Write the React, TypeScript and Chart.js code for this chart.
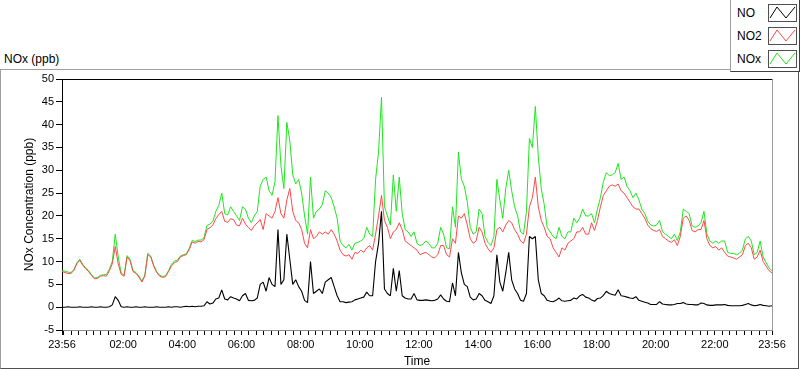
import React, { useEffect, useRef } from 'react';
import { Chart, registerables } from 'chart.js';

Chart.register(...registerables);

const FONT = "'Liberation Sans', Arial, sans-serif";

// time axis: minutes since start (23:56), one sample every 6 minutes
const START_CLOCK = '23:56';
const STEP_MIN = 6;
const SPAN_MIN = 1440;

const X_TICK_LABELS = ['23:56', '02:00', '04:00', '06:00', '08:00', '10:00', '12:00', '14:00', '16:00', '18:00', '20:00', '22:00', '23:56'];
const Y_TICKS = [-5, 0, 5, 10, 15, 20, 25, 30, 35, 40, 45, 50];

const NO = [
  0.0, 0.0, 0.1, 0.0, 0.0, 0.0, 0.1, 0.0, 0.0, 0.0, 0.1, 0.0, 0.0, 0.1, 0.0, 0.0, 0.1, 0.5, 2.3, 1.5,
  0.1, 0.0, 0.1, 0.0, 0.0, 0.1, 0.0, 0.0, 0.1, 0.0, 0.0, 0.0, 0.1, 0.0, 0.0, 0.0, 0.1, 0.0, 0.1, 0.1,
  0.0, 0.1, 0.2, 0.1, 0.2, 0.1, 0.2, 0.2, 0.3, 1.2, 0.7, 0.9, 1.8, 2.0, 3.8, 1.8, 1.6, 2.3, 2.0, 1.8,
  1.4, 2.5, 3.0, 1.5, 1.4, 1.5, 2.0, 5.0, 5.5, 3.5, 6.5, 5.0, 4.5, 17.0, 5.0, 6.0, 16.0, 10.5, 5.0, 6.0,
  4.5, 3.5, 1.5, 1.0, 10.0, 3.0, 3.5, 4.0, 3.0, 5.5, 6.0, 6.5, 4.5, 2.5, 1.2, 1.2, 1.0, 1.1, 1.2, 1.6,
  1.8, 2.0, 2.2, 3.3, 2.5, 2.5, 10.0, 14.0, 21.0, 4.0, 3.0, 2.5, 8.5, 3.5, 8.0, 2.5, 2.0, 1.8, 1.8, 3.0,
  1.6, 1.5, 1.5, 1.6, 1.5, 1.4, 1.5, 1.8, 2.7, 1.8, 1.3, 1.2, 5.3, 2.5, 12.0, 7.5, 5.0, 4.5, 2.2, 1.6,
  1.8, 3.0, 2.5, 1.5, 1.2, 0.8, 2.5, 11.5, 5.5, 3.5, 7.5, 12.0, 6.0, 4.0, 3.0, 1.5, 1.3, 3.0, 15.5, 15.0,
  15.5, 6.0, 3.0, 2.5, 1.5, 1.3, 1.2, 1.5, 2.0, 1.4, 1.3, 1.4, 1.5, 2.0, 1.8, 2.5, 2.8, 2.2, 2.0, 1.6,
  1.3, 1.9, 2.0, 2.6, 3.5, 3.0, 2.8, 2.6, 3.8, 2.5, 2.4, 2.2, 2.0, 1.9, 2.3, 1.5, 1.3, 1.1, 0.9, 0.6,
  0.6, 0.6, 1.2, 0.7, 0.6, 0.5, 0.5, 0.6, 0.8, 0.8, 1.0, 0.7, 0.6, 0.6, 0.5, 0.5, 0.9, 0.8, 0.5, 0.4,
  0.4, 0.5, 0.5, 0.5, 0.6, 0.4, 0.3, 0.3, 0.3, 0.3, 0.4, 0.6, 0.8, 0.5, 0.3, 0.4, 0.6, 0.4, 0.3, 0.2,
  0.3,
];

const NO2 = [
  7.8, 7.6, 7.4, 7.4, 8.0, 9.5, 10.3, 9.2, 8.4, 7.8, 6.9, 6.2, 6.3, 6.8, 6.9, 6.8, 8.0, 9.5, 13.3, 9.5,
  7.2, 6.8, 11.0, 10.2, 7.8, 7.4, 6.6, 5.5, 6.8, 11.5, 11.0, 9.0, 7.6, 6.8, 6.5, 6.7, 7.8, 9.0, 9.8, 10.0,
  11.0, 11.3, 11.5, 12.6, 14.3, 14.0, 14.4, 14.3, 14.8, 17.0, 17.4, 18.0, 19.4, 20.3, 21.0, 18.8, 18.6, 19.4, 19.2, 18.0,
  17.8, 19.5, 18.2, 17.5, 16.8, 17.8, 18.5, 19.2, 17.0, 20.5, 20.0, 19.5, 21.0, 24.0, 20.5, 19.5, 23.5, 26.0, 21.0, 19.0,
  18.5, 17.0, 14.0, 13.0, 17.0, 15.0, 15.5, 16.5, 16.0, 16.5, 16.0, 17.0, 16.0, 14.5, 12.5, 11.5, 11.2, 11.5, 10.5, 12.0,
  11.8, 12.5, 12.0, 13.0, 13.5, 12.5, 16.0, 20.0, 24.5, 19.0, 17.5, 15.0, 16.5, 17.0, 18.5, 17.0, 14.5, 14.0, 13.5, 13.0,
  12.5, 11.5, 11.8, 12.0, 11.5, 11.0, 10.8, 11.5, 13.5, 13.5, 11.5, 11.0, 15.0, 14.0, 20.0, 19.5, 20.5, 18.0, 15.0, 14.0,
  14.5, 17.5, 16.5, 14.0, 12.8, 12.0, 13.0, 17.0, 17.5, 16.5, 18.0, 19.0, 18.5, 17.0, 16.0, 14.5, 14.0, 16.0, 22.0, 24.0,
  28.5, 22.0, 19.0, 17.5, 15.5, 15.0, 13.0, 12.0, 11.0, 13.0, 12.5, 14.0, 14.5, 15.0, 16.5, 16.5, 17.5, 16.0, 16.0, 18.5,
  16.8, 19.0, 22.0, 24.5, 25.5, 26.5, 26.8, 26.5, 27.0, 25.5, 25.0, 24.0, 23.0, 22.0, 21.5, 21.5, 20.5, 19.5, 18.0, 17.2,
  16.8, 16.6, 17.0, 15.5, 15.0, 14.5, 14.2, 14.8, 13.5, 15.5, 19.5, 20.0, 19.0, 16.8, 16.5, 17.0, 17.0, 19.0, 15.0, 13.5,
  13.0, 13.3, 12.5, 13.0, 12.0, 11.2, 11.0, 10.8, 10.5, 11.0, 11.5, 13.5, 14.0, 13.0, 10.5, 11.0, 12.5, 10.0, 9.0, 8.0,
  7.5,
];

const NOX = [
  8.0, 7.9, 7.7, 7.6, 8.2, 9.7, 10.5, 9.4, 8.6, 8.0, 7.1, 6.4, 6.5, 7.0, 7.1, 7.2, 8.3, 10.0, 16.0, 11.0,
  7.5, 7.0, 11.3, 10.5, 8.0, 7.6, 6.8, 5.7, 7.0, 11.8, 11.2, 9.2, 7.8, 7.0, 6.7, 6.9, 8.0, 9.4, 10.1, 10.3,
  11.2, 11.5, 11.7, 12.9, 14.6, 14.4, 14.7, 14.7, 15.2, 17.9, 18.2, 18.8, 21.0, 22.3, 25.0, 20.5, 20.2, 22.0, 21.0, 20.0,
  19.0, 22.0, 21.5, 19.5, 18.5, 20.0, 21.0, 26.5, 28.0, 28.5, 25.5, 24.5, 27.5, 42.0, 31.0, 26.0, 40.5, 36.5, 29.0, 27.0,
  28.0, 25.0, 20.0, 16.0, 28.5, 19.5, 21.0, 21.5, 22.5, 25.5, 25.0, 24.0, 22.0, 19.5, 14.5, 13.5, 13.0, 13.8, 12.5, 14.0,
  14.2, 14.5, 15.0, 17.5, 16.0, 15.5, 28.0, 34.0, 46.0, 22.0, 20.0, 18.0, 29.0, 21.0, 28.5, 20.5, 17.0, 16.5, 15.5, 16.5,
  14.0, 13.5, 13.8, 14.5, 14.0, 13.0, 13.0, 14.0, 17.5, 16.0, 13.0, 12.8, 22.0, 17.5, 34.0, 28.0, 26.5, 23.0, 17.5, 16.0,
  16.5, 21.5, 20.5, 15.5, 14.2, 13.5, 15.5, 28.0, 23.5, 19.5, 26.0, 30.0, 25.5, 22.0, 20.0, 16.5, 16.0, 21.0, 37.0, 35.0,
  44.0, 33.0, 26.0, 22.5, 17.5, 16.5, 15.5, 15.0, 17.5, 15.5, 15.0, 16.5, 16.5, 19.5, 18.5, 19.5, 21.5, 20.0, 20.0, 20.5,
  18.5, 21.5, 24.0, 27.5, 29.5, 28.8, 29.0, 29.5, 31.5, 28.0, 28.5, 26.5, 25.5, 24.0, 25.0, 23.5, 21.5, 20.5, 18.8, 18.0,
  17.8, 18.0, 19.0, 16.5, 16.0, 15.5, 15.0, 16.0, 14.6, 16.5, 21.5, 21.0, 20.5, 17.8, 17.5, 17.8, 18.5, 21.0, 16.0, 14.5,
  14.0, 14.5, 14.0, 14.5, 14.5, 12.0, 11.8, 11.8, 11.5, 11.8, 12.5, 15.0, 15.5, 14.5, 11.5, 12.0, 14.5, 11.0, 9.8, 8.6,
  8.0,
];

function clockToMin(s: string): number {
  const [h, m] = s.split(':').map(Number);
  return h * 60 + m;
}

const START = clockToMin(START_CLOCK);

// offsets (minutes from start) of the labelled ticks
function labelOffset(label: string, idx: number): number {
  if (idx === 0) return 0;
  if (idx === X_TICK_LABELS.length - 1) return SPAN_MIN;
  return (clockToMin(label) - START + 1440) % 1440;
}
const LABEL_MAP = new Map<number, string>();
X_TICK_LABELS.forEach((l, i) => LABEL_MAP.set(labelOffset(l, i), l));

// minor ticks every 15 clock-minutes
const TICK_VALUES: number[] = [0];
for (let t = 1; t < SPAN_MIN; t++) if ((START + t) % 15 === 0) TICK_VALUES.push(t);
TICK_VALUES.push(SPAN_MIN);

function series(vals: number[]) {
  return vals.map((v, i) => ({ x: i * STEP_MIN, y: v }));
}

const framePlugin = {
  id: 'plotFrame',
  afterDraw(chart: any) {
    const { ctx, chartArea: a } = chart;
    ctx.save();
    ctx.lineWidth = 1;
    ctx.strokeStyle = '#000';
    ctx.beginPath();
    ctx.moveTo(a.left, a.top + 0.5);
    ctx.lineTo(a.right, a.top + 0.5);
    ctx.stroke();
    ctx.strokeStyle = '#9a9a9a';
    ctx.beginPath();
    ctx.moveTo(a.right + 0.5, a.top);
    ctx.lineTo(a.right + 0.5, a.bottom);
    ctx.stroke();
    ctx.restore();
  },
};

const LEGEND = [
  { name: 'NO', color: '#000000' },
  { name: 'NO2', color: '#ff4848' },
  { name: 'NOx', color: '#1ee61e' },
];

export default function App() {
  const ref = useRef<HTMLCanvasElement | null>(null);

  useEffect(() => {
    if (!ref.current) return;
    const chart = new Chart(ref.current, {
      type: 'line',
      data: {
        datasets: [
          { label: 'NO', data: series(NO), borderColor: '#000000', borderWidth: 1.1 },
          { label: 'NO2', data: series(NO2), borderColor: '#ff4848', borderWidth: 1 },
          { label: 'NOx', data: series(NOX), borderColor: '#1ee61e', borderWidth: 1 },
        ],
      },
      options: {
        animation: false,
        responsive: false,
        devicePixelRatio: 1,
        layout: { padding: { top: 79, right: 28, left: 0, bottom: 0 } },
        elements: {
          point: { radius: 0 },
          line: { tension: 0, borderJoinStyle: 'bevel', fill: false },
        },
        plugins: {
          legend: { display: false },
          tooltip: { enabled: false },
          title: { display: false },
        },
        scales: {
          x: {
            type: 'linear',
            min: 0,
            max: SPAN_MIN,
            afterBuildTicks: (s: any) => {
              s.ticks = TICK_VALUES.map((v) => ({ value: v }));
            },
            afterFit: (s: any) => {
              s.height = 39;
              s.paddingLeft = 0;
              s.paddingRight = 0;
            },
            ticks: {
              autoSkip: false,
              maxRotation: 0,
              minRotation: 0,
              padding: 3,
              color: '#000',
              font: { family: FONT, size: 11 },
              callback: (v: any) => LABEL_MAP.get(Number(v)) ?? '',
            },
            grid: {
              display: true,
              drawOnChartArea: false,
              drawTicks: true,
              tickLength: 5,
              tickColor: '#000',
              tickWidth: 1,
            },
            border: { display: true, color: '#8c8c8c', width: 1 },
            title: {
              display: true,
              text: 'Time',
              color: '#000',
              font: { family: FONT, size: 12 },
              padding: { top: 0, bottom: 0 },
            },
          },
          y: {
            type: 'linear',
            min: -5,
            max: 50,
            afterBuildTicks: (s: any) => {
              s.ticks = Y_TICKS.map((v) => ({ value: v }));
            },
            afterFit: (s: any) => {
              s.width = 62;
            },
            ticks: {
              color: '#000',
              font: { family: FONT, size: 11 },
              padding: 2,
            },
            grid: {
              display: true,
              drawOnChartArea: false,
              drawTicks: true,
              tickLength: 6,
              tickColor: '#000',
            },
            border: { display: true, color: '#000', width: 1 },
            title: {
              display: true,
              text: 'NOx Concentration (ppb)',
              color: '#000',
              font: { family: FONT, size: 12 },
              padding: { top: 22, bottom: 0 },
            },
          },
        },
      },
      plugins: [framePlugin],
    } as any);
    return () => chart.destroy();
  }, []);

  return (
    <div
      style={{
        position: 'fixed',
        left: 0,
        top: 0,
        width: 800,
        height: 369,
        background: '#fff',
        fontFamily: FONT,
        fontSize: 12,
        color: '#000',
        overflow: 'hidden',
      }}
    >
      <div
        style={{
          position: 'absolute',
          left: 0,
          top: 69,
          width: 797,
          height: 298,
          borderLeft: '1px solid #a0a0a0',
          borderTop: '1px solid #a0a0a0',
          borderRight: '1px solid #505050',
          borderBottom: '1px solid #505050',
        }}
      />
      <div style={{ position: 'absolute', left: 4, top: 52, lineHeight: '14px', whiteSpace: 'nowrap' }}>NOx (ppb)</div>
      <canvas ref={ref} width={800} height={369} style={{ position: 'absolute', left: 0, top: 0, width: 800, height: 369 }} />
      <div
        style={{
          position: 'absolute',
          left: 730,
          top: 0,
          width: 68,
          height: 71,
          background: '#fff',
          borderLeft: '1px solid #a0a0a0',
          borderRight: '1px solid #404040',
          borderBottom: '1px solid #404040',
        }}
      >
        {LEGEND.map((e, k) => (
          <div key={e.name} style={{ position: 'absolute', left: 0, top: 4 + k * 23, width: 68, height: 18 }}>
            <div style={{ position: 'absolute', left: 6, top: 1, lineHeight: '16px', whiteSpace: 'nowrap' }}>{e.name}</div>
            <div
              style={{
                position: 'absolute',
                left: 37,
                top: 0,
                width: 27,
                height: 16,
                border: '1px solid #505050',
                background: '#fff',
              }}
            >
              <svg width={27} height={16} style={{ display: 'block' }}>
                <polyline points="1,13 8,2 17,13 26,2" fill="none" stroke={e.color} strokeWidth={1} />
              </svg>
            </div>
          </div>
        ))}
      </div>
    </div>
  );
}
